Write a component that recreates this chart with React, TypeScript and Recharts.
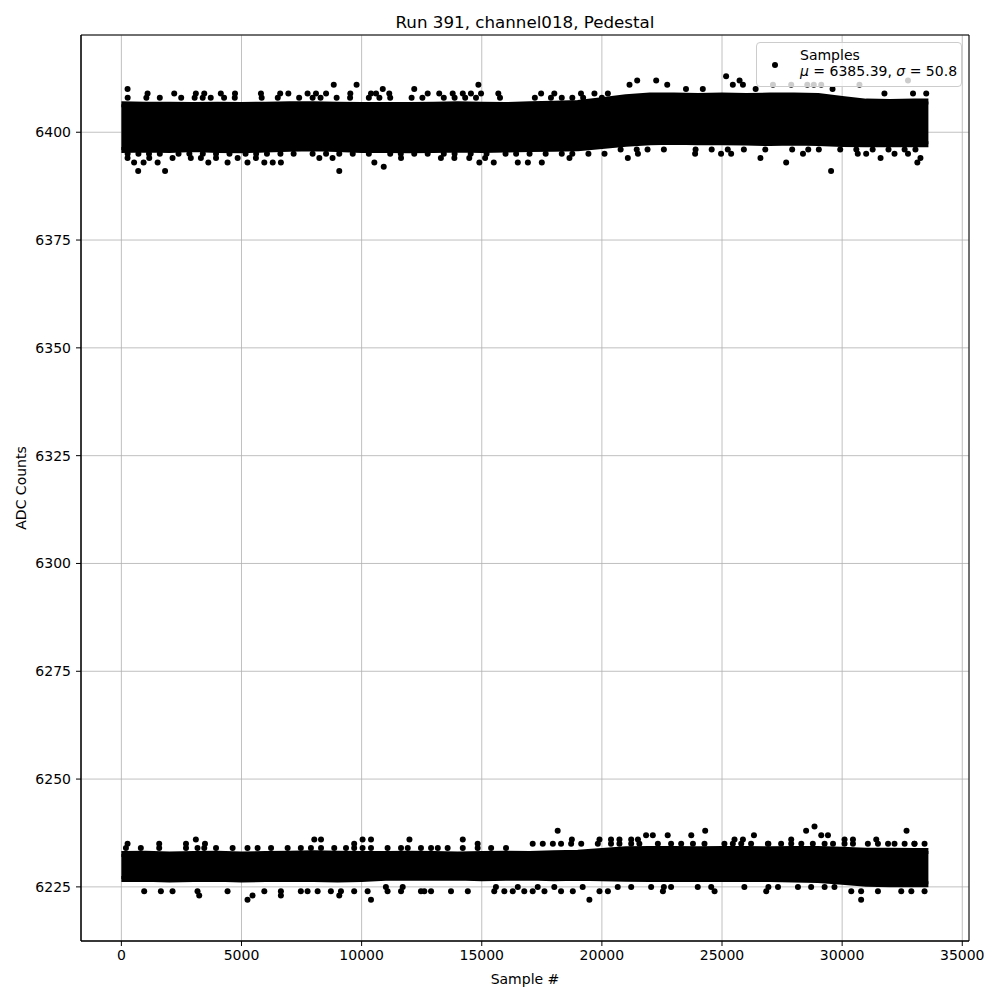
import React from 'react';
import {
  ComposedChart,
  Area,
  Scatter,
  XAxis,
  YAxis,
  CartesianGrid,
  ReferenceArea,
  Label
} from 'recharts';

const FONT = '"DejaVu Sans", sans-serif';

// sample # positions where the band edges were read
const binSamples = [
  0, 1000, 2000, 3000, 4000, 5000, 6000, 7000, 8000, 9000, 10000, 11000, 12000,
  13000, 14000, 15000, 16000, 17000, 18000, 19000, 20000, 21000, 22000, 23000,
  24000, 25000, 26000, 27000, 28000, 29000, 30000, 31000, 32000, 33000, 33590
];

// dense upper band (ADC counts at dot centres)
const upperLow = [
  6395.9, 6396.0, 6395.9, 6396.1, 6395.9, 6395.8, 6396.0, 6396.2, 6396.3, 6396.1,
  6395.9, 6395.9, 6395.8, 6395.9, 6396.0, 6395.9, 6396.0, 6396.1, 6396.2, 6396.3,
  6396.8, 6397.3, 6397.7, 6397.8, 6397.7, 6397.7, 6397.6, 6397.5, 6397.6, 6397.5,
  6397.3, 6397.2, 6397.3, 6397.2, 6397.2
];
const upperHigh = [
  6406.5, 6406.4, 6406.4, 6406.3, 6406.4, 6406.3, 6406.4, 6406.5, 6406.5, 6406.4,
  6406.3, 6406.3, 6406.3, 6406.4, 6406.5, 6406.4, 6406.3, 6406.5, 6406.6, 6406.8,
  6407.4, 6408.1, 6408.5, 6408.5, 6408.4, 6408.5, 6408.4, 6408.5, 6408.5, 6408.4,
  6407.7, 6407.1, 6407.0, 6407.1, 6407.1
];

// dense lower band
const lowerLow = [
  6226.8, 6226.9, 6226.7, 6226.8, 6226.9, 6226.7, 6226.8, 6226.9, 6226.8, 6226.7,
  6226.8, 6227.1, 6227.2, 6227.1, 6227.2, 6227.0, 6227.1, 6227.2, 6227.0, 6227.1,
  6227.0, 6226.9, 6226.8, 6226.9, 6226.8, 6226.8, 6226.9, 6226.8, 6226.7, 6226.6,
  6226.2, 6225.7, 6225.6, 6225.6, 6225.6
];
const lowerHigh = [
  6232.6, 6232.7, 6232.5, 6232.6, 6232.7, 6232.5, 6232.6, 6232.7, 6232.8, 6232.7,
  6232.6, 6232.6, 6232.7, 6232.6, 6232.5, 6232.6, 6232.7, 6232.6, 6232.8, 6232.9,
  6233.3, 6233.7, 6233.8, 6233.8, 6233.7, 6233.8, 6233.8, 6233.7, 6233.8, 6233.8,
  6233.6, 6233.4, 6233.4, 6233.3, 6233.3
];

// rows of samples just outside the dense edges (sample #)
const upperTop6408 = [
  262, 1040, 1600, 2490, 3050, 3385, 3720, 4275, 4720, 5840, 6510, 7400, 7960, 8290,
  8960, 9520, 10300, 10740, 11190, 12080, 12530, 13420, 13870, 14310, 14760, 15760,
  17210, 17880, 18330, 18770, 19220, 20000
];
const upperBottom6395 = [
  262, 710, 1150, 1600, 2380, 2830, 3390, 3940, 4500, 5170, 5610, 6060, 6620, 7170,
  7960, 8520, 9070, 9630, 10300, 11190, 11630, 12190, 12750, 13420, 13870, 14540,
  15200, 15990, 16430, 16990, 17660, 18330, 18770, 19440, 20110
];
const upperBottom6396 = [
  20780, 21450, 21900, 23900, 24570, 25240, 25910, 26800, 27920, 28590, 29030, 29920,
  30590, 31270, 31930, 32600, 33050
];
const lowerTop6234 = [
  190, 810, 1575, 2690, 3170, 3450, 3940, 4630, 5250, 5670, 6230, 6920, 7470, 7890,
  8310, 8860, 9350, 9690, 10040, 10390, 11080, 11640, 11920, 12470, 12890, 13170,
  13580, 14210, 14830, 15390, 16010
];
const lowerTop6235 = [
  17120, 17540, 17960, 18300, 18720, 19140, 19830, 20380, 20730, 21220, 21560, 22330,
  22880, 23300, 23790, 24270, 25100, 25450, 25800, 26210, 26910, 27460, 27880, 28300,
  28780, 29270, 29620, 30100, 30450, 31070, 31490, 31910, 32180, 32600, 33010, 33430
];
const lowerBottom6225 = [
  16500, 17330, 18020, 19200, 20660, 21220, 22050, 22880, 23990, 24550, 25930, 27330,
  28160, 28710, 29270, 29680
];
const lowerBottom6224 = [
  950, 1645, 2130, 3170, 4420, 5950, 6640, 7470, 7750, 8170, 8720, 9140, 9690, 10250,
  11080, 11640, 12470, 12890, 13720, 14420, 15520, 15940, 16290, 16770, 17120, 17610,
  18300, 18790, 19900, 20250, 22540, 24690, 26840, 30380, 30790, 31490, 32460, 32880,
  33430
];

// isolated samples further out [sample #, ADC counts]
const upperOutliers: [number, number][] = [
  [258, 6410], [1090, 6409], [2200, 6409], [3100, 6409], [3450, 6409], [4140, 6409],
  [4730, 6409], [5810, 6409], [6610, 6409], [6950, 6409], [7750, 6409], [8100, 6409],
  [8520, 6409], [8840, 6411], [9530, 6409], [9790, 6411], [10390, 6409], [10600, 6409],
  [10880, 6410], [11150, 6409], [12190, 6410], [12750, 6409], [13230, 6409], [13790, 6409],
  [14210, 6409], [14550, 6409], [14860, 6411], [14970, 6409], [15690, 6409], [17470, 6409],
  [18020, 6409], [19130, 6409], [19690, 6409], [20250, 6409], [21150, 6411], [21470, 6412],
  [22260, 6412], [22720, 6411], [23500, 6410], [24200, 6410], [25170, 6413], [25450, 6411],
  [25730, 6412], [25870, 6411], [26400, 6410], [27120, 6411], [27880, 6411], [28550, 6411],
  [28820, 6411], [29130, 6411], [29600, 6410], [30720, 6411], [31760, 6409], [32740, 6412],
  [32950, 6409], [33500, 6409],
  [258, 6394], [530, 6393], [700, 6391], [925, 6393], [1160, 6394], [1510, 6393],
  [1820, 6391], [2130, 6394], [2890, 6394], [3310, 6394], [3620, 6393], [3940, 6394],
  [4420, 6393], [4840, 6394], [5250, 6393], [5600, 6394], [5950, 6393], [6300, 6393],
  [6640, 6393], [8240, 6394], [8790, 6394], [9070, 6391], [10530, 6393], [10920, 6392],
  [11640, 6394], [13300, 6394], [13860, 6394], [14480, 6394], [14900, 6393], [15140, 6394],
  [15500, 6393], [16500, 6393], [16920, 6393], [17500, 6393], [18650, 6394], [21080, 6394],
  [21500, 6395], [22580, 6396], [23880, 6395], [24960, 6395], [25380, 6395], [26600, 6394],
  [27670, 6393], [28370, 6395], [29540, 6391], [30650, 6395], [31000, 6395], [31600, 6394],
  [32180, 6395], [32740, 6395], [33130, 6393], [33260, 6394]
];

const lowerOutliers: [number, number][] = [
  [258, 6235], [1575, 6235], [2690, 6235], [3100, 6236], [3480, 6235], [8030, 6236],
  [8310, 6236], [9690, 6235], [10040, 6236], [10390, 6236], [11990, 6236], [14210, 6236],
  [14830, 6235], [18160, 6238], [18750, 6236], [19900, 6236], [20380, 6236], [20730, 6236],
  [21220, 6236], [21500, 6236], [21840, 6237], [22120, 6237], [22740, 6237], [23720, 6237],
  [24300, 6238], [25520, 6236], [25870, 6236], [26330, 6237], [26930, 6235], [27880, 6236],
  [28500, 6238], [28850, 6239], [29130, 6237], [29410, 6237], [30100, 6236], [30450, 6236],
  [31420, 6236], [32680, 6238], [33010, 6235],
  [3240, 6223], [5250, 6222], [5460, 6223], [6640, 6223], [9070, 6223], [10390, 6222],
  [11010, 6225], [11710, 6225], [12610, 6224], [15590, 6225], [19480, 6222], [22580, 6225],
  [26930, 6225], [30790, 6222]
];

const xTicks = [0, 5000, 10000, 15000, 20000, 25000, 30000, 35000];
const yTicks = [6225, 6250, 6275, 6300, 6325, 6350, 6375, 6400];
const xDomain = [-1680, 35280];
const yDomain = [6212.45, 6422.55];

const upperBand = binSamples.map((x, i) => ({ x, range: [upperLow[i], upperHigh[i]] }));
const lowerBand = binSamples.map((x, i) => ({ x, range: [lowerLow[i], lowerHigh[i]] }));

const row = (xs: number[], y: number) => xs.map((x) => ({ x, y }));
const samplePoints = [
  ...row(upperTop6408, 6408),
  ...row(upperBottom6395, 6395),
  ...row(upperBottom6396, 6396),
  ...row(lowerTop6234, 6234),
  ...row(lowerTop6235, 6235),
  ...row(lowerBottom6225, 6225),
  ...row(lowerBottom6224, 6224),
  ...[...upperOutliers, ...lowerOutliers].map(([x, y]) => ({ x, y }))
];

const Dot = (props: any) => <circle cx={props.cx} cy={props.cy} r={3} fill="#000" />;

const tickStyle = { fill: '#000', fontSize: 14, fontFamily: FONT };

export default function App() {
  return (
    <div style={{ position: 'absolute', left: 0, top: 0, width: 1000, height: 1000, background: '#fff', fontFamily: FONT }}>
      <div
        style={{
          position: 'absolute',
          left: 81,
          width: 888,
          top: 12,
          textAlign: 'center',
          fontSize: 16.7,
          color: '#000'
        }}
      >
        Run 391, channel018, Pedestal
      </div>
      <ComposedChart width={1000} height={1000} margin={{ top: 35, right: 31, bottom: 0, left: 0 }}>
        <CartesianGrid stroke="#b0b0b0" strokeWidth={0.8} />
        <XAxis
          dataKey="x"
          type="number"
          domain={xDomain}
          ticks={xTicks}
          interval={0}
          allowDataOverflow
          height={59}
          tickSize={5}
          tickMargin={4}
          stroke="#000"
          tick={tickStyle}
        >
          <Label value="Sample #" position="insideBottom" offset={16} style={{ fill: '#000', fontSize: 14, fontFamily: FONT }} />
        </XAxis>
        <YAxis
          type="number"
          domain={yDomain}
          ticks={yTicks}
          interval={0}
          allowDataOverflow
          width={81}
          tickSize={5}
          tickMargin={5}
          stroke="#000"
          tick={tickStyle}
        >
          <Label
            value="ADC Counts"
            angle={-90}
            position="insideLeft"
            offset={21}
            style={{ fill: '#000', fontSize: 14, fontFamily: FONT, textAnchor: 'middle' }}
          />
        </YAxis>
        <Area
          data={upperBand}
          dataKey="range"
          type="linear"
          fill="#000"
          fillOpacity={1}
          stroke="#000"
          strokeWidth={6}
          strokeLinejoin="round"
          isAnimationActive={false}
          activeDot={false}
          dot={false}
        />
        <Area
          data={lowerBand}
          dataKey="range"
          type="linear"
          fill="#000"
          fillOpacity={1}
          stroke="#000"
          strokeWidth={6}
          strokeLinejoin="round"
          isAnimationActive={false}
          activeDot={false}
          dot={false}
        />
        <Scatter data={samplePoints} dataKey="y" shape={Dot} isAnimationActive={false} />
        <ReferenceArea
          x1={xDomain[0]}
          x2={xDomain[1]}
          y1={yDomain[0]}
          y2={yDomain[1]}
          fill="none"
          stroke="#000"
          strokeWidth={1}
          ifOverflow="visible"
        />
      </ComposedChart>
      <div
        style={{
          position: 'absolute',
          left: 756,
          top: 42,
          width: 204,
          height: 43,
          border: '1px solid #cccccc',
          borderRadius: 4,
          background: 'rgba(255,255,255,0.8)',
          fontSize: 14,
          color: '#000',
          lineHeight: '16px'
        }}
      >
        <div style={{ position: 'absolute', left: 15, top: 19, width: 6, height: 6, borderRadius: 3, background: '#000' }} />
        <div style={{ position: 'absolute', left: 43, top: 4, whiteSpace: 'nowrap' }}>Samples</div>
        <div style={{ position: 'absolute', left: 43, top: 20, whiteSpace: 'nowrap' }}>
          <i>μ</i> = 6385.39, <i>σ</i> = 50.8
        </div>
      </div>
    </div>
  );
}
